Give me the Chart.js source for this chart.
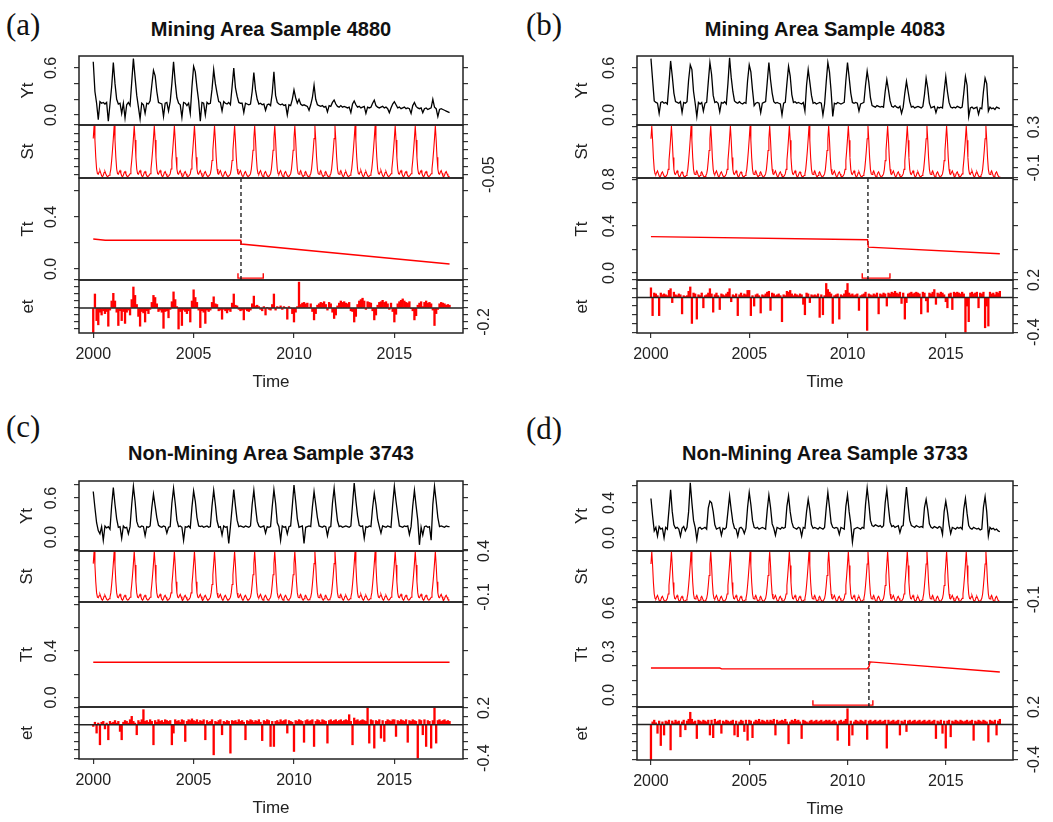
<!DOCTYPE html>
<html>
<head>
<meta charset="utf-8">
<script src="https://cdn.jsdelivr.net/npm/chart.js@4.4.0/dist/chart.umd.min.js"></script>
<style>
  body { margin: 0; background: #fff; width: 1053px; height: 822px; position: relative; overflow: hidden; }
  canvas { position: absolute; }
  .tag { position: absolute; font-family: "Liberation Serif", "Times New Roman", serif; font-size: 31px; line-height: 1; color: #111; }
  .ttl { position: absolute; font-family: "Liberation Sans", Arial, sans-serif; font-weight: bold; font-size: 20px; line-height: 1; color: #111; text-align: center; }
</style>
</head>
<body>
<script>
// time axis: monthly samples from 2000.0 to 2017.75
const START = 2000;
const END = 2017.75;
const xTicks = [2000, 2005, 2010, 2015];

// ---- panel (a) Mining Area Sample 4880 ----
const ytA = [
  0.68, 0.30, 0.15, -0.06, 0.17, 0.15, 0.16, 0.14, 0.16, -0.08, 0.14, 0.36,
  0.67, 0.40, 0.20, 0.14, 0.15, 0.02, 0.15, -0.04, 0.13, 0.16, 0.12, 0.42,
  0.72, 0.48, 0.25, 0.10, -0.05, 0.15, 0.13, 0.02, 0.15, 0.14, 0.18, 0.38,
  0.57, 0.50, 0.30, 0.16, 0.15, 0.14, -0.02, 0.15, 0.16, 0.05, 0.17, 0.40,
  0.68, 0.42, 0.22, 0.15, 0.13, -0.03, 0.16, 0.15, 0.12, 0.15, 0.02, 0.36,
  0.62, 0.55, 0.35, 0.18, -0.08, 0.16, 0.15, 0.00, 0.16, 0.14, 0.15, 0.33,
  0.58, 0.40, 0.28, 0.17, 0.16, 0.05, 0.17, 0.15, 0.14, 0.16, 0.13, 0.36,
  0.60, 0.35, 0.24, 0.16, 0.15, 0.15, 0.03, 0.15, 0.14, 0.13, 0.14, 0.30,
  0.54, 0.32, 0.20, 0.14, 0.15, 0.13, 0.14, 0.06, 0.13, 0.14, 0.12, 0.28,
  0.55, 0.25, 0.16, 0.14, 0.13, 0.14, 0.12, 0.13, 0.00, 0.13, 0.12, 0.20,
  0.32, 0.22, 0.15, 0.20, 0.14, 0.12, 0.13, 0.12, 0.11, 0.06, 0.13, 0.22,
  0.38, 0.20, 0.13, 0.12, 0.11, 0.12, 0.10, 0.11, 0.04, 0.12, 0.11, 0.16,
  0.19, 0.14, 0.11, 0.10, 0.12, 0.10, 0.11, 0.10, 0.09, 0.10, 0.03, 0.14,
  0.18, 0.13, 0.10, 0.11, 0.09, 0.10, 0.11, 0.02, 0.10, 0.09, 0.10, 0.15,
  0.19, 0.12, 0.10, 0.09, 0.10, 0.11, 0.09, 0.10, 0.08, 0.03, 0.09, 0.14,
  0.17, 0.13, 0.09, 0.10, 0.08, 0.09, 0.10, 0.08, 0.09, 0.08, 0.02, 0.12,
  0.16, 0.11, 0.09, 0.08, 0.09, 0.03, 0.08, 0.09, 0.07, 0.08, 0.09, 0.20,
  0.10, 0.08, -0.02, 0.07, 0.08, 0.07, 0.06, 0.05, 0.04, 0.03
];
const stA = [0.168, 0.245, 0.159, 0.055, -0.016, -0.044, -0.047, -0.034, -0.025, -0.041, -0.056, -0.062,
  -0.053, -0.037, -0.031, -0.044, -0.056, -0.062, -0.059, -0.053, -0.044, -0.016, 0.036, 0.098];
const ttTimesA = [2000, 2000.6, 2007.35, 2007.37, 2017.75];
const ttA = [0.231, 0.221, 0.221, 0.192, 0.038];
const etA = [
  -0.35, 0.20, -0.18, -0.24, -0.06, -0.10, -0.04, -0.08, -0.05, -0.26, -0.03, 0.10,
  0.21, 0.10, -0.06, -0.25, -0.04, -0.18, -0.05, -0.22, -0.06, -0.03, -0.10, 0.12,
  0.30, 0.18, 0.05, -0.12, -0.26, -0.05, -0.07, -0.20, -0.04, -0.08, -0.02, 0.08,
  0.18, 0.15, 0.06, -0.05, -0.03, -0.06, -0.29, -0.05, -0.04, -0.14, -0.02, 0.09,
  0.23, 0.12, 0.02, -0.30, -0.05, -0.25, -0.03, -0.05, -0.08, -0.04, -0.20, 0.10,
  0.26, 0.15, 0.08, -0.03, -0.28, -0.04, -0.06, -0.22, -0.03, -0.05, -0.03, 0.08,
  0.16, 0.06, 0.05, -0.04, -0.03, -0.16, -0.02, -0.04, -0.07, -0.03, -0.05, 0.07,
  0.20, 0.04, 0.03, -0.02, -0.04, -0.03, -0.17, -0.02, -0.04, -0.05, -0.03, 0.06,
  0.17, 0.03, 0.04, 0.02, -0.02, -0.04, 0.02, -0.10, 0.01, -0.02, -0.03, 0.05,
  0.20, -0.03, 0.02, 0.01, 0.03, -0.02, 0.02, 0.01, -0.16, 0.02, 0.00, -0.08,
  -0.20, -0.06, 0.02, 0.37, 0.05, 0.07, 0.08, 0.06, 0.07, 0.01, 0.06, -0.05,
  -0.17, -0.08, 0.04, 0.06, 0.08, 0.07, 0.09, 0.05, -0.03, 0.08, 0.06, -0.06,
  -0.15, -0.10, 0.03, 0.07, 0.10, 0.08, 0.09, 0.07, 0.06, 0.08, -0.04, -0.05,
  -0.20, -0.12, 0.05, 0.10, 0.12, 0.14, 0.10, -0.02, 0.09, 0.08, 0.07, -0.04,
  -0.17, -0.10, 0.04, 0.08, 0.09, 0.11, 0.08, 0.09, 0.06, -0.02, 0.07, -0.05,
  -0.20, -0.09, 0.06, 0.09, 0.11, 0.13, 0.10, 0.08, 0.07, 0.09, -0.01, -0.04,
  -0.17, -0.11, 0.04, 0.07, 0.09, 0.02, 0.08, 0.10, 0.07, 0.08, 0.06, -0.03,
  -0.25, -0.08, -0.02, 0.06, 0.08, 0.07, 0.06, 0.04, 0.05, 0.04
];
const breakA = 2007.36;
const ciA = [2007.21, 2008.47];
const yLabelsA = [['0.0', '0.6'], ['-0.05'], ['0.0', '0.4'], ['-0.2']];

// ---- panel (b) Mining Area Sample 4083 ----
const ytB = [
  0.72, 0.45, 0.18, 0.16, 0.15, 0.02, 0.16, 0.17, 0.15, 0.16, 0.14, 0.40,
  0.69, 0.50, 0.28, 0.17, 0.16, 0.15, 0.17, 0.03, 0.16, 0.15, 0.17, 0.45,
  0.64, 0.58, 0.30, 0.15, -0.02, 0.16, 0.14, 0.16, 0.05, 0.15, 0.16, 0.42,
  0.67, 0.52, 0.25, 0.16, 0.17, 0.15, 0.04, 0.16, 0.15, 0.17, 0.14, 0.40,
  0.73, 0.48, 0.30, 0.18, 0.16, 0.15, 0.17, 0.15, 0.14, 0.16, 0.15, 0.44,
  0.64, 0.55, 0.32, 0.12, 0.15, 0.16, 0.15, 0.03, 0.15, 0.16, 0.17, 0.42,
  0.67, 0.45, 0.28, 0.17, 0.15, 0.16, 0.15, 0.14, 0.00, 0.15, 0.16, 0.40,
  0.62, 0.50, 0.26, 0.16, 0.17, 0.15, 0.16, 0.15, 0.14, 0.16, 0.05, 0.38,
  0.58, 0.42, 0.25, 0.15, 0.16, 0.14, 0.15, 0.16, 0.15, 0.00, 0.14, 0.42,
  0.67, 0.55, 0.30, -0.02, 0.15, 0.14, 0.16, 0.15, 0.14, 0.15, 0.16, 0.44,
  0.67, 0.48, 0.28, 0.16, 0.15, 0.16, 0.15, 0.05, 0.14, 0.15, 0.16, 0.38,
  0.56, 0.42, 0.22, 0.12, 0.11, 0.10, 0.12, 0.11, 0.10, 0.11, 0.10, 0.30,
  0.45, 0.32, 0.18, 0.11, 0.10, 0.12, 0.10, 0.09, 0.11, 0.02, 0.10, 0.28,
  0.43, 0.30, 0.17, 0.10, 0.11, 0.09, 0.10, 0.11, 0.10, 0.09, 0.11, 0.26,
  0.47, 0.34, 0.15, 0.09, 0.10, 0.11, 0.03, 0.10, 0.09, 0.10, 0.09, 0.30,
  0.49, 0.30, 0.16, 0.10, 0.09, 0.10, 0.09, 0.11, 0.10, 0.09, 0.10, 0.28,
  0.49, 0.38, -0.02, 0.09, 0.10, 0.08, 0.09, 0.10, 0.01, 0.09, 0.08, 0.30,
  0.47, 0.40, 0.05, 0.10, 0.08, 0.09, 0.07, 0.10, 0.09, 0.08
];
const stB = [0.185, 0.31, 0.17, 0.0, -0.115, -0.16, -0.165, -0.145, -0.13, -0.155, -0.18, -0.19,
  -0.175, -0.15, -0.14, -0.16, -0.18, -0.19, -0.185, -0.175, -0.16, -0.115, -0.03, 0.07];
const ttTimesB = [2000, 2011.02, 2011.06, 2017.75];
const ttB = [0.31, 0.283, 0.22, 0.164];
const etB = [
  0.11, -0.21, 0.05, 0.04, 0.02, -0.21, 0.05, 0.03, 0.04, 0.03, 0.02, 0.08,
  0.10, -0.06, 0.06, 0.03, 0.02, 0.04, 0.03, -0.19, 0.02, 0.01, 0.02, 0.07,
  0.12, -0.30, 0.05, 0.04, -0.25, 0.03, 0.02, 0.05, -0.12, 0.02, 0.03, 0.05,
  0.10, 0.04, -0.17, 0.03, 0.05, 0.02, -0.14, 0.04, 0.03, 0.02, 0.04, 0.06,
  0.10, -0.05, 0.03, 0.02, 0.04, -0.21, 0.03, 0.05, 0.02, 0.04, 0.03, 0.08,
  0.08, -0.21, 0.02, -0.10, 0.03, 0.04, 0.02, -0.18, 0.03, 0.02, 0.04, 0.06,
  0.07, -0.15, 0.05, 0.04, 0.02, 0.03, 0.04, 0.02, -0.28, 0.03, 0.02, 0.07,
  0.06, 0.08, 0.04, 0.02, 0.04, 0.03, 0.02, 0.04, 0.03, -0.08, -0.20, 0.05,
  0.04, -0.06, 0.03, 0.02, 0.03, 0.02, 0.04, -0.23, 0.03, -0.20, 0.02, 0.16,
  0.09, 0.06, 0.04, -0.30, 0.02, 0.03, 0.04, -0.25, 0.03, 0.02, 0.04, 0.08,
  0.16, 0.05, 0.03, 0.04, 0.02, 0.03, 0.04, -0.15, 0.02, 0.03, 0.04, 0.06,
  -0.38, 0.04, 0.03, 0.02, 0.04, 0.03, 0.05, -0.19, 0.04, 0.03, 0.05, 0.04,
  -0.10, 0.05, 0.04, 0.06, 0.05, 0.07, 0.05, 0.04, 0.06, -0.07, 0.05, -0.25,
  -0.06, 0.04, 0.05, 0.06, 0.04, 0.05, 0.06, 0.05, 0.04, -0.19, 0.06, 0.05,
  -0.04, -0.17, 0.05, 0.04, 0.06, 0.09, -0.08, 0.05, 0.04, 0.06, 0.05, 0.03,
  -0.05, -0.12, 0.04, 0.05, -0.14, 0.06, 0.05, 0.06, 0.05, 0.04, 0.06, 0.04,
  -0.40, -0.10, -0.28, 0.05, 0.06, 0.04, 0.05, 0.06, -0.12, 0.05, 0.04, 0.06,
  -0.35, -0.10, -0.33, 0.06, 0.04, 0.05, 0.03, 0.06, 0.05, 0.07
];
const breakB = 2011.04;
const ciB = [2010.75, 2012.16];
const yLabelsB = [['0.0', '0.6'], ['-0.1', '0.3'], ['0.0', '0.4', '0.8'], ['-0.4', '0.2']];

// ---- panel (c) Non-Mining Area Sample 3743 ----
const ytC = [
  0.70, 0.45, 0.22, 0.10, 0.05, 0.16, -0.05, 0.17, 0.14, 0.16, 0.12, 0.48,
  0.76, 0.50, 0.28, 0.15, 0.16, -0.02, 0.17, 0.14, 0.15, 0.05, 0.16, 0.50,
  0.78, 0.55, 0.24, 0.16, 0.15, 0.17, 0.16, 0.02, 0.16, 0.15, 0.17, 0.45,
  0.66, 0.48, 0.30, 0.18, 0.16, 0.15, 0.17, 0.16, 0.06, 0.15, 0.16, 0.52,
  0.75, 0.52, 0.26, 0.16, 0.17, 0.15, -0.05, 0.16, 0.15, 0.17, 0.14, 0.46,
  0.71, 0.55, 0.30, 0.17, 0.16, 0.17, 0.15, 0.16, 0.17, 0.15, 0.16, 0.48,
  0.72, 0.50, 0.25, 0.15, 0.16, 0.03, 0.17, 0.15, 0.16, -0.10, 0.16, 0.45,
  0.73, 0.48, 0.26, 0.16, 0.17, 0.16, 0.15, 0.17, 0.16, 0.15, 0.17, 0.50,
  0.72, 0.46, 0.24, 0.17, 0.15, 0.16, 0.17, 0.06, 0.16, 0.15, 0.16, 0.47,
  0.73, 0.52, 0.22, 0.16, -0.05, 0.17, 0.15, 0.16, 0.05, 0.16, 0.17, 0.48,
  0.80, 0.55, 0.28, 0.15, 0.16, 0.17, -0.10, 0.15, 0.16, 0.17, 0.16, 0.46,
  0.70, 0.50, 0.30, 0.17, 0.16, 0.15, 0.17, 0.16, 0.02, 0.15, 0.16, 0.52,
  0.75, 0.48, 0.25, 0.16, 0.17, 0.15, 0.16, 0.17, 0.16, 0.15, 0.17, 0.50,
  0.83, 0.56, 0.33, 0.18, 0.16, 0.17, -0.02, 0.16, 0.15, 0.17, 0.16, 0.45,
  0.67, 0.50, 0.27, 0.16, 0.06, 0.17, 0.16, 0.15, 0.17, 0.16, 0.15, 0.50,
  0.78, 0.55, 0.35, 0.17, 0.16, 0.15, 0.17, 0.16, 0.17, 0.04, 0.16, 0.48,
  0.72, 0.48, 0.26, -0.12, 0.15, 0.03, 0.16, 0.17, 0.15, 0.16, -0.05, 0.50,
  0.78, 0.55, 0.30, 0.16, 0.17, 0.16, 0.15, 0.17, 0.16, 0.16
];
const stC = [0.263, 0.395, 0.247, 0.066, -0.056, -0.103, -0.109, -0.087, -0.071, -0.098, -0.124, -0.135,
  -0.119, -0.093, -0.082, -0.103, -0.124, -0.135, -0.130, -0.119, -0.103, -0.056, 0.035, 0.141];
const ttTimesC = [2000, 2017.75];
const ttC = [0.303, 0.303];
const etC = [
  -0.02, 0.03, -0.10, 0.02, -0.24, 0.03, 0.04, -0.05, 0.02, -0.18, 0.04, 0.02,
  0.03, 0.05, 0.02, 0.04, -0.08, -0.18, 0.03, 0.05, 0.04, 0.02, 0.06, 0.10,
  0.04, 0.02, -0.12, 0.05, 0.03, 0.06, 0.18, 0.04, 0.05, 0.03, 0.06, 0.04,
  -0.24, 0.05, 0.03, 0.06, 0.04, 0.05, 0.03, 0.06, 0.05, 0.04, 0.05, -0.24,
  -0.10, 0.06, 0.04, 0.05, 0.03, 0.06, 0.05, -0.20, 0.04, 0.06, 0.05, 0.07,
  0.05, 0.04, 0.06, 0.03, 0.05, 0.04, 0.06, -0.18, 0.05, 0.03, 0.04, 0.06,
  -0.36, 0.04, 0.03, 0.05, 0.06, -0.12, 0.04, 0.03, 0.05, 0.04, -0.34, 0.05,
  0.04, 0.05, 0.03, 0.06, 0.04, 0.05, 0.03, -0.18, 0.05, 0.04, 0.06, 0.05,
  0.03, 0.05, 0.04, 0.06, 0.03, -0.19, 0.05, 0.04, 0.06, 0.05, -0.26, 0.04,
  -0.26, 0.04, 0.05, 0.03, 0.06, 0.04, 0.05, 0.06, -0.10, 0.05, 0.04, 0.03,
  -0.32, 0.05, 0.04, 0.06, 0.05, 0.04, -0.21, 0.05, 0.06, 0.04, 0.05, 0.06,
  -0.26, 0.04, 0.06, 0.05, 0.03, 0.06, 0.05, 0.04, -0.22, 0.05, 0.06, 0.04,
  0.05, 0.06, 0.04, 0.05, 0.06, 0.04, 0.05, 0.06, 0.05, 0.12, 0.04, -0.24,
  0.08, 0.05, 0.06, 0.04, 0.05, 0.06, 0.05, 0.04, 0.20, -0.22, 0.06, 0.05,
  -0.28, 0.05, 0.04, 0.06, -0.16, 0.05, -0.20, 0.04, 0.06, 0.05, 0.04, 0.06,
  0.06, -0.14, 0.05, 0.04, 0.06, 0.05, 0.04, 0.06, -0.21, 0.05, 0.04, 0.06,
  0.05, 0.04, -0.40, 0.06, 0.05, -0.12, 0.06, -0.26, 0.05, 0.04, -0.28, 0.05,
  0.20, -0.22, 0.05, 0.06, 0.04, 0.05, 0.06, 0.04, 0.05, 0.04
];
const breakC = null;
const ciC = null;
const yLabelsC = [['0.0', '0.6'], ['-0.1', '0.4'], ['0.0', '0.4'], ['-0.4', '0.2']];

// ---- panel (d) Non-Mining Area Sample 3733 ----
const ytD = [
  0.45, 0.25, 0.08, 0.12, 0.02, 0.13, 0.10, 0.11, 0.00, 0.12, 0.10, 0.32,
  0.55, 0.30, 0.15, 0.11, 0.12, 0.10, 0.02, 0.11, 0.13, 0.08, 0.12, 0.30,
  0.63, 0.40, 0.20, 0.12, -0.02, 0.11, 0.12, 0.10, 0.11, 0.12, 0.10, 0.34,
  0.42, 0.40, 0.30, 0.15, 0.10, 0.11, 0.12, 0.03, 0.11, 0.10, 0.12, 0.30,
  0.48, 0.32, 0.18, 0.11, 0.10, 0.02, 0.11, 0.12, 0.10, 0.05, 0.11, 0.35,
  0.52, 0.38, 0.20, 0.12, 0.11, 0.12, 0.10, 0.11, 0.12, 0.11, 0.10, 0.32,
  0.49, 0.35, 0.16, 0.11, 0.03, 0.12, 0.11, 0.10, 0.12, 0.11, 0.12, 0.36,
  0.48, 0.30, 0.18, 0.12, 0.11, 0.10, 0.12, 0.11, 0.02, 0.12, 0.11, 0.30,
  0.44, 0.32, 0.15, 0.11, 0.12, 0.11, 0.10, 0.12, 0.11, 0.10, 0.12, 0.34,
  0.52, 0.35, 0.17, 0.12, 0.11, 0.12, 0.11, 0.04, 0.12, 0.11, 0.10, 0.36,
  0.49, 0.30, 0.16, -0.05, 0.10, 0.11, 0.12, 0.11, 0.10, 0.12, 0.11, 0.38,
  0.57, 0.40, 0.20, 0.14, 0.13, 0.15, 0.14, 0.13, 0.14, 0.12, 0.14, 0.40,
  0.55, 0.35, 0.18, 0.13, 0.14, 0.12, 0.13, 0.14, 0.06, 0.13, 0.14, 0.38,
  0.58, 0.38, 0.20, 0.14, 0.13, 0.12, 0.14, 0.13, 0.12, 0.13, 0.12, 0.35,
  0.44, 0.32, 0.16, 0.12, 0.11, 0.13, 0.12, 0.11, 0.13, 0.12, 0.04, 0.30,
  0.42, 0.30, 0.15, 0.05, 0.12, 0.11, 0.10, 0.12, 0.11, 0.12, 0.10, 0.33,
  0.45, 0.28, 0.14, 0.11, 0.10, 0.12, 0.11, 0.10, 0.11, 0.09, 0.10, 0.35,
  0.47, 0.30, 0.02, 0.12, 0.10, 0.11, 0.09, 0.10, 0.08, 0.07
];
const stD = [0.193, 0.295, 0.180, 0.041, -0.054, -0.090, -0.095, -0.078, -0.066, -0.086, -0.107, -0.115,
  -0.103, -0.082, -0.074, -0.090, -0.107, -0.115, -0.111, -0.103, -0.090, -0.054, 0.016, 0.098];
const ttTimesD = [2000, 2003.5, 2003.6, 2011.0, 2011.09, 2011.15, 2017.75];
const ttD = [0.186, 0.186, 0.180, 0.180, 0.195, 0.228, 0.158];
const etD = [
  -0.40, 0.03, 0.05, 0.02, -0.10, 0.04, -0.24, 0.03, -0.12, 0.04, 0.03, 0.05,
  -0.29, 0.04, 0.02, 0.05, 0.03, 0.04, -0.14, 0.03, 0.05, -0.06, 0.04, 0.06,
  0.14, 0.06, 0.03, 0.04, -0.16, 0.05, 0.04, 0.03, 0.05, 0.04, 0.03, 0.05,
  -0.12, 0.05, -0.15, 0.06, 0.03, 0.04, 0.05, -0.10, 0.04, 0.03, 0.05, 0.04,
  0.03, 0.04, 0.05, -0.12, 0.04, -0.14, 0.03, 0.05, 0.04, -0.08, 0.05, -0.18,
  0.05, 0.04, -0.15, 0.03, 0.05, 0.04, 0.06, 0.03, 0.05, 0.04, 0.03, 0.05,
  0.03, 0.05, 0.04, 0.06, -0.12, 0.05, 0.03, 0.04, 0.05, 0.04, 0.06, 0.03,
  -0.22, 0.03, 0.05, 0.04, 0.06, 0.04, 0.05, 0.03, -0.16, 0.05, 0.04, 0.03,
  0.02, 0.04, 0.05, 0.03, 0.04, 0.05, 0.03, 0.04, 0.05, 0.03, 0.04, 0.05,
  0.04, 0.05, 0.03, 0.04, 0.05, 0.03, -0.18, 0.04, 0.05, 0.03, 0.04, 0.06,
  0.18, -0.24, 0.04, -0.12, 0.03, 0.05, 0.04, 0.03, 0.05, 0.04, 0.03, 0.05,
  -0.17, 0.04, 0.05, 0.03, 0.04, 0.05, 0.03, 0.04, 0.05, 0.03, 0.04, 0.05,
  -0.27, 0.05, 0.03, 0.04, 0.05, 0.03, 0.04, 0.05, -0.12, 0.04, 0.03, 0.05,
  -0.08, 0.04, 0.05, 0.03, 0.04, 0.05, 0.03, 0.04, 0.05, 0.03, 0.04, 0.05,
  0.03, 0.04, 0.05, 0.03, 0.04, 0.05, -0.16, 0.04, 0.03, 0.05, -0.10, 0.04,
  -0.27, 0.04, 0.05, -0.14, 0.04, 0.03, 0.05, 0.04, 0.03, 0.05, 0.04, 0.03,
  0.04, 0.05, 0.03, 0.04, 0.05, -0.18, 0.04, 0.03, 0.05, 0.04, 0.03, 0.05,
  0.04, 0.03, -0.20, 0.05, 0.04, 0.03, 0.05, -0.12, 0.04, 0.06
];
const breakD = 2011.09;
const ciD = [2008.24, 2011.29];
const yLabelsD = [['0.0', '0.4'], ['-0.1'], ['0.0', '0.3', '0.6'], ['-0.4', '0.2']];

const stripNames = ['Yt', 'St', 'Tt', 'et'];

// layout (pixels) and axis ranges [min, max, tick step] per panel
const panels = [
  { tag: '(a)', title: 'Mining Area Sample 4880', plotL: 79, plotR: 463, rows: [56, 125, 178, 280, 333],
    tagX: 6, tagY: 9, titleY: 19, titlePad: 18,
    ranges: [[-0.128, 0.753, 0.2], [-0.07, 0.25, 0.05], [-0.085, 0.70, 0.2], [-0.357, 0.40, 0.1]],
    yt: ytA, st: stA, ttT: ttTimesA, tt: ttA, et: etA, bp: breakA, ci: ciA, labels: yLabelsA },
  { tag: '(b)', title: 'Mining Area Sample 4083', plotL: 637, plotR: 1013, rows: [56, 125, 178, 280, 333],
    tagX: 526, tagY: 9, titleY: 19, titlePad: 14,
    ranges: [[-0.128, 0.753, 0.2], [-0.2, 0.32, 0.1], [-0.06, 0.81, 0.2], [-0.41, 0.2, 0.1]],
    yt: ytB, st: stB, ttT: ttTimesB, tt: ttB, et: etB, bp: breakB, ci: ciB, labels: yLabelsB },
  { tag: '(c)', title: 'Non-Mining Area Sample 3743', plotL: 79, plotR: 463, rows: [481, 551, 602, 707, 759],
    tagX: 6, tagY: 411, titleY: 443, titlePad: 17,
    ranges: [[-0.215, 0.862, 0.2], [-0.155, 0.40, 0.1], [-0.082, 0.822, 0.2], [-0.41, 0.212, 0.1]],
    yt: ytC, st: stC, ttT: ttTimesC, tt: ttC, et: etC, bp: breakC, ci: ciC, labels: yLabelsC },
  { tag: '(d)', title: 'Non-Mining Area Sample 3733', plotL: 637, plotR: 1013, rows: [481, 551, 602, 707, 760],
    tagX: 526, tagY: 413, titleY: 443, titlePad: 14,
    ranges: [[-0.15, 0.65, 0.2], [-0.12, 0.30, 0.1], [-0.083, 0.641, 0.1], [-0.405, 0.2, 0.1]],
    yt: ytD, st: stD, ttT: ttTimesD, tt: ttD, et: etD, bp: breakD, ci: ciD, labels: yLabelsD }
];

const X_MIN = 1999.29, X_MAX = 2018.42;
const LEFT_W = 79, RIGHT_W = 40, PAD = 16, X_H = 60;
const RED = '#ff0000';
const INK = '#222';
const FONT = '"Liberation Sans", Arial, sans-serif';

Chart.defaults.font.family = FONT;
Chart.defaults.color = INK;

function monthly(vals) {
  return vals.map((v, i) => ({ x: START + i / 12, y: v }));
}

// seasonal profile is the same every year, 24 steps per year
function seasonal(profile) {
  const pts = [];
  for (let yr = 0; START + yr <= END; yr++) {
    profile.forEach((v, k) => {
      const x = START + yr + k / 24;
      if (x <= END + 1e-9) pts.push({ x: x, y: v });
    });
  }
  return pts;
}

// tick positions: every multiple of step inside the range
function tickValues(range) {
  const [min, max, step] = range;
  const out = [];
  for (let n = Math.ceil(min / step - 1e-9); n * step <= max + 1e-9; n++) {
    out.push(Math.round(n * step * 1000) / 1000);
  }
  return out;
}

// box around the plot area, plus the zero line of the remainder strip
const framePlugin = {
  id: 'frame',
  afterDatasetsDraw(chart, args, opts) {
    const a = chart.chartArea;
    const ctx = chart.ctx;
    ctx.save();
    ctx.strokeStyle = INK;
    ctx.lineWidth = 1.5;
    if (opts.zero) {
      const y0 = chart.scales.yl.getPixelForValue(0);
      ctx.beginPath();
      ctx.moveTo(a.left, y0);
      ctx.lineTo(a.right, y0);
      ctx.stroke();
    }
    ctx.strokeRect(a.left, a.top, a.right - a.left, a.bottom - a.top);
    ctx.restore();
  }
};

function yAxis(pos, range, labels, name, titlePad) {
  const values = tickValues(range);
  return {
    type: 'linear',
    position: pos,
    min: range[0],
    max: range[1],
    afterBuildTicks(sc) { sc.ticks = values.map(v => ({ value: v })); },
    afterFit(sc) {
      sc.width = pos === 'left' ? LEFT_W : RIGHT_W;
      sc.paddingTop = 0;
      sc.paddingBottom = 0;
    },
    ticks: {
      autoSkip: false,
      minRotation: 90,
      maxRotation: 90,
      crossAlign: 'center',
      align: pos === 'left' ? 'end' : 'center',
      color: INK,
      font: { size: 16 },
      callback(v) {
        const hit = labels.find(l => Math.abs(parseFloat(l) - v) < 1e-6);
        return hit === undefined ? '' : hit;
      }
    },
    grid: { drawOnChartArea: false, tickLength: 5, tickColor: '#333', lineWidth: 1.2 },
    border: { display: false },
    title: pos === 'left'
      ? { display: true, text: name, color: INK, font: { size: 17 }, padding: { top: titlePad, bottom: 0 } }
      : { display: false }
  };
}

function makeStrip(p, idx) {
  const top = p.rows[idx];
  const h = p.rows[idx + 1] - top;
  const last = idx === 3;
  const range = p.ranges[idx];
  const cv = document.createElement('canvas');
  cv.width = LEFT_W + (p.plotR - p.plotL) + RIGHT_W;
  cv.height = PAD + h + (last ? X_H : PAD);
  cv.style.left = (p.plotL - LEFT_W) + 'px';
  cv.style.top = (top - PAD) + 'px';
  document.body.appendChild(cv);

  const leftLabels = idx % 2 === 0 ? p.labels[idx] : [];
  const rightLabels = idx % 2 === 1 ? p.labels[idx] : [];
  const axes = { xAxisID: 'x', yAxisID: 'yl' };

  let datasets = [];
  if (idx === 0) {
    datasets.push({ ...axes, type: 'line', data: monthly(p.yt), borderColor: '#000', borderWidth: 1.3 });
  } else if (idx === 1) {
    datasets.push({ ...axes, type: 'line', data: seasonal(p.st), borderColor: RED, borderWidth: 1.1 });
  } else if (idx === 2) {
    datasets.push({ ...axes, type: 'line', data: p.ttT.map((t, i) => ({ x: t, y: p.tt[i] })), borderColor: RED, borderWidth: 1.4 });
    if (p.bp !== null) {
      datasets.push({ ...axes, type: 'line', data: [{ x: p.bp, y: range[0] }, { x: p.bp, y: range[1] }],
        borderColor: '#111', borderWidth: 1.3, borderDash: [4, 3] });
      const span = range[1] - range[0];
      const low = range[0] + span * 0.018, high = range[0] + span * 0.065;
      datasets.push({ ...axes, type: 'line', data: [
          { x: p.ci[0], y: high }, { x: p.ci[0], y: low }, { x: p.ci[1], y: low }, { x: p.ci[1], y: high }],
        borderColor: RED, borderWidth: 1.4 });
    }
  } else {
    datasets.push({ ...axes, type: 'bar', data: monthly(p.et), backgroundColor: RED, borderWidth: 0,
      barPercentage: 1, categoryPercentage: 1, grouped: false });
  }

  new Chart(cv, {
    type: 'line',
    data: { datasets: datasets },
    options: {
      responsive: false,
      animation: false,
      devicePixelRatio: 1,
      events: [],
      layout: { padding: { top: PAD, bottom: last ? 0 : PAD, left: 0, right: 0 } },
      elements: { point: { radius: 0 }, line: { tension: 0, fill: false } },
      plugins: { legend: { display: false }, tooltip: { enabled: false }, frame: { zero: last } },
      scales: {
        x: {
          type: 'linear',
          min: X_MIN,
          max: X_MAX,
          offset: false,
          display: last,
          afterFit(sc) { sc.height = last ? X_H : 0; sc.paddingLeft = 0; sc.paddingRight = 0; },
          afterBuildTicks(sc) { sc.ticks = xTicks.map(v => ({ value: v })); },
          ticks: { autoSkip: false, maxRotation: 0, padding: 7, color: INK, font: { size: 16 }, callback: v => String(v) },
          grid: { drawOnChartArea: false, offset: false, tickLength: 5, tickColor: '#333', lineWidth: 1.2 },
          border: { display: false },
          title: { display: true, text: 'Time', color: INK, font: { size: 17 }, padding: { top: 0, bottom: 0 } }
        },
        yl: yAxis('left', range, leftLabels, stripNames[idx], p.titlePad),
        yr: yAxis('right', range, rightLabels, '', 0)
      }
    },
    plugins: [framePlugin]
  });
}

panels.forEach(p => {
  const tag = document.createElement('div');
  tag.className = 'tag';
  tag.textContent = p.tag;
  tag.style.left = p.tagX + 'px';
  tag.style.top = p.tagY + 'px';
  document.body.appendChild(tag);

  const ttl = document.createElement('div');
  ttl.className = 'ttl';
  ttl.textContent = p.title;
  ttl.style.left = p.plotL + 'px';
  ttl.style.width = (p.plotR - p.plotL) + 'px';
  ttl.style.top = p.titleY + 'px';
  document.body.appendChild(ttl);

  for (let i = 0; i < 4; i++) makeStrip(p, i);
});
</script>
</body>
</html>
